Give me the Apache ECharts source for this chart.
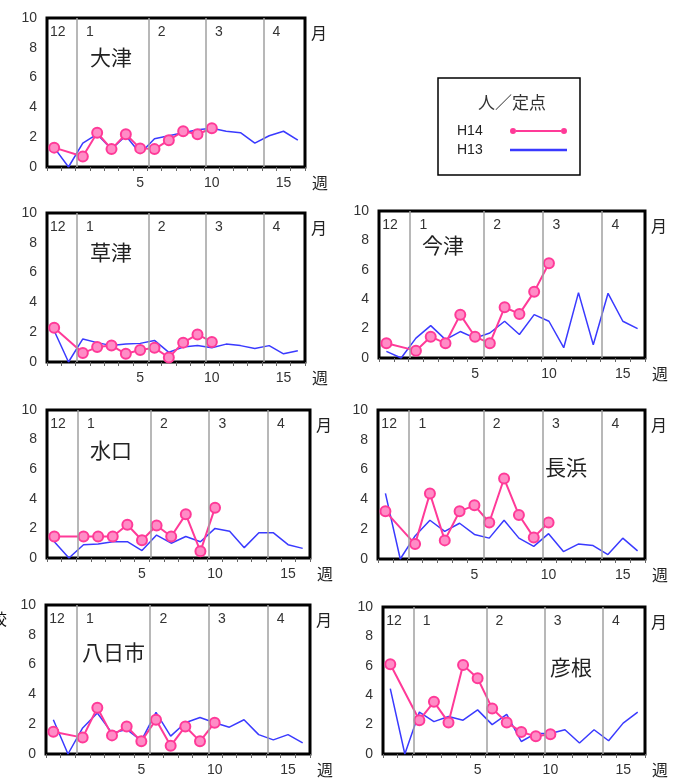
<!DOCTYPE html>
<html><head><meta charset="utf-8">
<script src="https://cdn.jsdelivr.net/npm/echarts@6/dist/echarts.min.js"></script>
<style>html,body{margin:0;padding:0;background:#fff}#c{width:674px;height:778px}</style>
</head><body><div id="c"></div><script>
// ---- data ----
const weeks = [-1, 0, 1, 2, 3, 4, 5, 6, 7, 8, 9, 10, 11, 12, 13, 14, 15, 16];
const weekTickLabels = [5, 10, 15];
const monthNames = ['12', '1', '2', '3', '4'];
const monthLabelWeeks = [-0.75, 1.5, 6.5, 10.5, 14.5];
const monthBoundaryWeeks = [0.6, 5.6, 9.6, 13.6];
const stationNames = ['大津', '草津', '今津', '水口', '長浜', '八日市', '彦根'];
const seriesNames = ['H14', 'H13'];
const unitLabel = '人／定点';

const h14_otsu      = [1.3, null, 0.7, 2.3, 1.2, 2.2, 1.25, 1.2, 1.8, 2.4, 2.2, 2.6, null, null, null, null, null, null];
const h13_otsu      = [1.3, 0, 1.6, 2.2, 1.2, 2.1, 0.9, 1.9, 2.1, 2.3, 2.5, 2.6, 2.4, 2.3, 1.6, 2.1, 2.4, 1.8];
const h14_kusatsu   = [2.3, null, 0.6, 1.0, 1.1, 0.55, 0.8, 0.95, 0.3, 1.3, 1.85, 1.35, null, null, null, null, null, null];
const h13_kusatsu   = [2.1, 0, 1.55, 1.3, 1.1, 1.2, 1.25, 1.45, 0.65, 1.0, 1.1, 0.95, 1.2, 1.1, 0.9, 1.1, 0.55, 0.75];
const h14_imazu     = [1.0, null, 0.5, 1.45, 1.0, 2.95, 1.45, 1.0, 3.45, 3.0, 4.5, 6.45, null, null, null, null, null, null];
const h13_imazu     = [0.45, 0, 1.35, 2.2, 1.25, 1.8, 1.35, 1.7, 2.5, 1.6, 2.95, 2.5, 0.7, 4.45, 0.9, 4.4, 2.5, 2.0];
const h14_minakuchi = [1.45, null, 1.45, 1.45, 1.45, 2.25, 1.2, 2.2, 1.45, 2.95, 0.45, 3.4, null, null, null, null, null, null];
const h13_minakuchi = [1.1, 0, 0.9, 0.95, 1.1, 1.1, 0.5, 1.55, 1.0, 1.45, 1.1, 2.0, 1.8, 0.7, 1.7, 1.7, 0.9, 0.65];
const h14_nagahama  = [3.2, null, 1.0, 4.4, 1.25, 3.2, 3.6, 2.45, 5.4, 2.95, 1.45, 2.45, null, null, null, null, null, null];
const h13_nagahama  = [4.4, 0, 1.55, 2.6, 1.85, 2.4, 1.65, 1.4, 2.6, 1.4, 0.85, 1.7, 0.5, 1.0, 0.9, 0.3, 1.4, 0.55];
const h14_yokaichi  = [1.5, null, 1.1, 3.1, 1.25, 1.85, 0.85, 2.3, 0.55, 1.85, 0.85, 2.1, null, null, null, null, null, null];
const h13_yokaichi  = [2.3, 0, 1.75, 2.75, 1.4, 1.65, 0.9, 2.8, 1.2, 2.1, 2.45, 2.1, 1.8, 2.3, 1.3, 0.95, 1.3, 0.75];
const h14_hikone    = [6.1, null, 2.3, 3.55, 2.15, 6.05, 5.15, 3.1, 2.15, 1.5, 1.2, 1.35, null, null, null, null, null, null];
const h13_hikone    = [4.45, 0, 2.85, 2.2, 2.55, 2.3, 3.0, 2.0, 2.7, 0.85, 1.4, 1.4, 1.65, 0.75, 1.65, 0.9, 2.1, 2.85];

const h14Data = [h14_otsu, h14_kusatsu, h14_imazu, h14_minakuchi, h14_nagahama, h14_yokaichi, h14_hikone];
const h13Data = [h13_otsu, h13_kusatsu, h13_imazu, h13_minakuchi, h13_nagahama, h13_yokaichi, h13_hikone];

// ---- layout ----
const layout = [
  {left: 47,  top: 18,  width: 258, height: 149, tl: 90,  tt: 46},
  {left: 47,  top: 213, width: 258, height: 149, tl: 90,  tt: 241},
  {left: 379, top: 211, width: 266, height: 147, tl: 422, tt: 234},
  {left: 47,  top: 410, width: 263, height: 148, tl: 90,  tt: 439},
  {left: 378, top: 410, width: 267, height: 149, tl: 545, tt: 456},
  {left: 46,  top: 605, width: 264, height: 149, tl: 82,  tt: 641},
  {left: 383, top: 607, width: 262, height: 147, tl: 550, tt: 656}
];

const NUM = '"Liberation Sans", Arial, sans-serif';
const JP = '"Noto Sans CJK JP", sans-serif';
const PINK = '#ff3a98';
const BLUE = '#3a3aff';
const tickBounds = [];
for (let t = -1.5; t <= 16.5; t += 1) tickBounds.push(t);
function monthIdx(v) {
  let best = 0;
  monthLabelWeeks.forEach((m, k) => { if (Math.abs(m - v) < Math.abs(monthLabelWeeks[best] - v)) best = k; });
  return best;
}

const option = {
  animation: false,
  backgroundColor: '#fff',
  grid: [], xAxis: [], yAxis: [], series: [], title: [],
  legend: {
    left: 457, top: 124, orient: 'vertical', align: 'right',
    itemWidth: 57, itemHeight: 6, itemGap: 5, padding: 0, selectedMode: false,
    formatter: n => '{a|' + n + '}',
    textStyle: {fontSize: 14, lineHeight: 14, color: '#222', fontFamily: NUM,
      rich: {a: {width: 48, align: 'left', fontSize: 14, color: '#222', fontFamily: NUM}}},
    itemStyle: {borderWidth: 0},
    data: [
      {name: seriesNames[0], itemStyle: {color: PINK, borderWidth: 0},
       icon: 'path://M0,3A3,3,0,1,1,6,3A3,3,0,1,1,0,3ZM6,2.1L51,2.1L51,3.9L6,3.9ZM51,3A3,3,0,1,1,57,3A3,3,0,1,1,51,3Z'},
      {name: seriesNames[1], itemStyle: {color: BLUE, borderWidth: 0}, icon: 'path://M0,2L57,2L57,4.3L0,4.3Z'}
    ]
  },
  graphic: [
    {type: 'rect', shape: {x: 438, y: 78, width: 142, height: 97}, style: {fill: 'none', stroke: '#000', lineWidth: 1.5}},
    {type: 'text', x: -9, y: 611, style: {text: '校', font: '16px "Noto Sans CJK JP"', fill: '#111'}}
  ]
};

layout.forEach((g, i) => {
  option.grid.push({left: g.left, top: g.top, width: g.width, height: g.height, show: true,
    borderColor: '#000', borderWidth: 3, backgroundColor: '#fff', containLabel: false,
    outerBoundsMode: 'none'});
  option.xAxis.push({
    gridIndex: i, type: 'value', min: -1.5, max: 16.5, position: 'bottom',
    axisLine: {show: false}, splitLine: {show: false},
    axisTick: {show: true, customValues: tickBounds, length: 4, lineStyle: {color: '#666', width: 1}},
    axisLabel: {customValues: weekTickLabels, margin: 9, color: '#333', fontSize: 14, fontFamily: NUM},
    name: '週', nameLocation: 'end', nameGap: 7,
    nameTextStyle: {fontSize: 16, color: '#222', fontFamily: JP, verticalAlign: 'top', lineHeight: 32}
  });
  option.xAxis.push({
    gridIndex: i, type: 'value', min: -1.5, max: 16.5, position: 'top',
    axisLine: {show: false}, axisTick: {show: false}, splitLine: {show: false},
    axisLabel: {inside: true, customValues: monthLabelWeeks, formatter: v => monthNames[monthIdx(v)],
      margin: 7, color: '#333', fontSize: 14, fontFamily: NUM},
    name: '月', nameLocation: 'end', nameGap: 6,
    nameTextStyle: {fontSize: 16, color: '#222', fontFamily: JP, verticalAlign: 'top', lineHeight: 30}
  });
  option.yAxis.push({
    gridIndex: i, type: 'value', min: 0, max: 10, interval: 2,
    axisLine: {show: false}, axisTick: {show: false}, splitLine: {show: false},
    axisLabel: {margin: 10, color: '#333', fontSize: 14, fontFamily: NUM}
  });
  option.series.push({
    type: 'line', name: seriesNames[1], xAxisIndex: 2 * i, yAxisIndex: i,
    data: weeks.map((w, k) => [w, h13Data[i][k]]),
    showSymbol: false, lineStyle: {color: BLUE, width: 1.5}, itemStyle: {color: BLUE}, z: 2,
    markLine: {silent: true, symbol: 'none', label: {show: false},
      lineStyle: {color: '#a0a0a0', width: 1.5, type: 'solid'},
      data: monthBoundaryWeeks.map(m => ({xAxis: m}))}
  });
  option.series.push({
    type: 'line', name: seriesNames[0], xAxisIndex: 2 * i, yAxisIndex: i,
    data: weeks.map((w, k) => [w, h14Data[i][k]]), connectNulls: true,
    symbol: 'circle', symbolSize: 10, showSymbol: true,
    lineStyle: {color: PINK, width: 2}, itemStyle: {color: '#ff8cc6', borderColor: PINK, borderWidth: 2}, z: 3
  });
  option.title.push({text: stationNames[i], left: g.tl, top: g.tt, padding: 0,
    textStyle: {fontSize: 21, fontWeight: 'normal', color: '#222', fontFamily: JP, lineHeight: 22}});
});
option.title.push({text: unitLabel, left: 478, top: 93, padding: 0,
  textStyle: {fontSize: 17, fontWeight: 'normal', color: '#333', fontFamily: JP, lineHeight: 20}});

echarts.init(document.getElementById('c'), null, {renderer: 'canvas'}).setOption(option);
</script></body></html>
